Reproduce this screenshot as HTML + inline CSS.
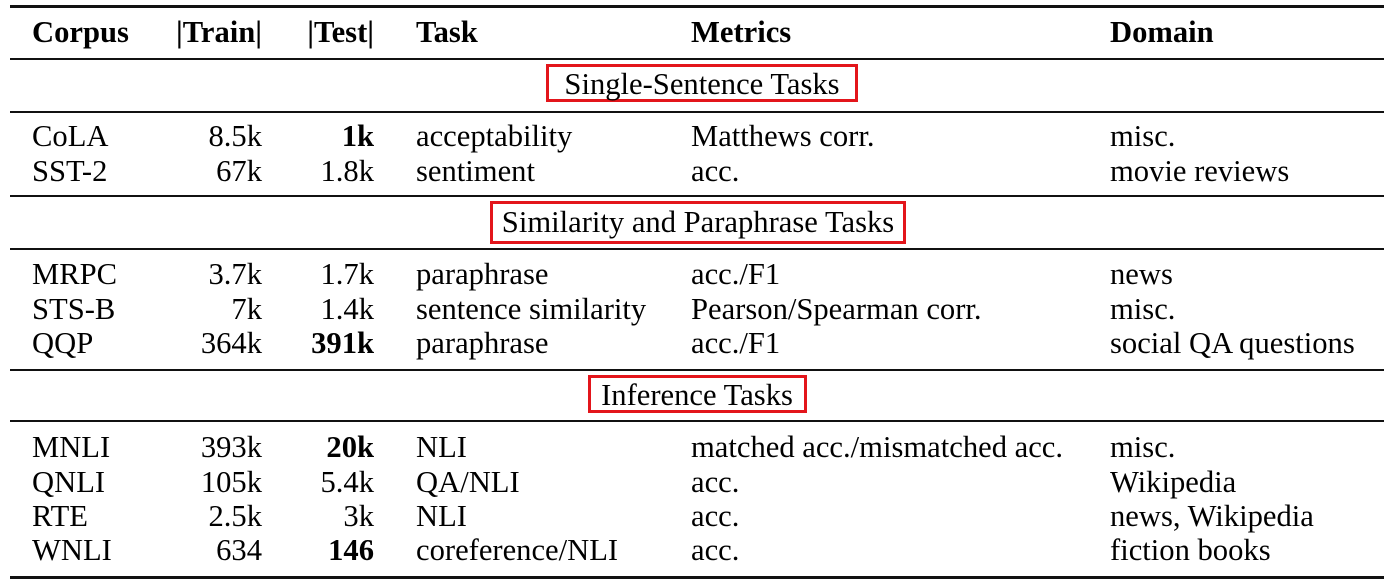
<!DOCTYPE html>
<html><head><meta charset="utf-8"><style>
body{margin:0;background:#fff;width:1394px;height:582px;position:relative;overflow:hidden;font-family:"Liberation Serif",serif;color:#000}
.t{position:absolute;font-size:30.6px;line-height:34px;white-space:nowrap}
.b{font-weight:bold}
.ctr{transform:translateX(-50%)}
.rule{position:absolute;left:10px;width:1374px;background:#111}
.box{position:absolute;border:3px solid #e3151b;box-sizing:border-box}
</style></head><body>
<div class="rule" style="top:5px;height:3px"></div>
<div class="rule" style="top:58px;height:2px"></div>
<div class="rule" style="top:111px;height:2px"></div>
<div class="rule" style="top:195px;height:2px"></div>
<div class="rule" style="top:248px;height:2px"></div>
<div class="rule" style="top:369px;height:2px"></div>
<div class="rule" style="top:420px;height:2px"></div>
<div class="rule" style="top:576px;height:3px"></div>

<div class="box" style="left:546px;top:64px;width:312px;height:38px"></div>
<div class="box" style="left:490px;top:201px;width:416px;height:43px"></div>
<div class="box" style="left:588px;top:375px;width:219px;height:38px"></div>

<div id="c"></div>
<script>
const rows=[
 ["CoLA","8.5k","1k",1,"acceptability","Matthews corr.","misc.",135],
 ["SST-2","67k","1.8k",0,"sentiment","acc.","movie reviews",170],
 ["MRPC","3.7k","1.7k",0,"paraphrase","acc./F1","news",273],
 ["STS-B","7k","1.4k",0,"sentence similarity","Pearson/Spearman corr.","misc.",308],
 ["QQP","364k","391k",1,"paraphrase","acc./F1","social QA questions",342],
 ["MNLI","393k","20k",1,"NLI","matched acc./mismatched acc.","misc.",446],
 ["QNLI","105k","5.4k",0,"QA/NLI","acc.","Wikipedia",481],
 ["RTE","2.5k","3k",0,"NLI","acc.","news, Wikipedia",515],
 ["WNLI","634","146",1,"coreference/NLI","acc.","fiction books",549]];
const c=document.getElementById('c');
function add(txt,cy,left,right,cls,name){
 const d=document.createElement('div');
 d.className='t '+(cls||'');
 d.textContent=txt;
 d.style.top=(cy-16)+'px';
 if(right!=null){d.style.right=(1394-right)+'px';}else{d.style.left=left+'px';}
 
 
 c.appendChild(d);
}
add("Corpus",31,32,null,"b","header-corpus");
add("|Train|",31,null,262,"b","header-train");
add("|Test|",31,null,374,"b","header-test");
add("Task",31,416,null,"b","header-task");
add("Metrics",31,691,null,"b","header-metrics");
add("Domain",31,1110,null,"b","header-domain");
add("Single-Sentence Tasks",83,702,null,"ctr","section-single-sentence");
add("Similarity and Paraphrase Tasks",221,698,null,"ctr","section-similarity");
add("Inference Tasks",394,697,null,"ctr","section-inference");
rows.forEach(r=>{
 const y=r[7];
 add(r[0],y,32,null,"","corpus-cell");
 add(r[1],y,null,262,"","train-cell");
 add(r[2],y,null,374,r[3]?"b":"","test-cell");
 add(r[4],y,416,null,"","task-cell");
 add(r[5],y,691,null,"","metrics-cell");
 add(r[6],y,1110,null,"","domain-cell");
});
</script>
</body></html>
